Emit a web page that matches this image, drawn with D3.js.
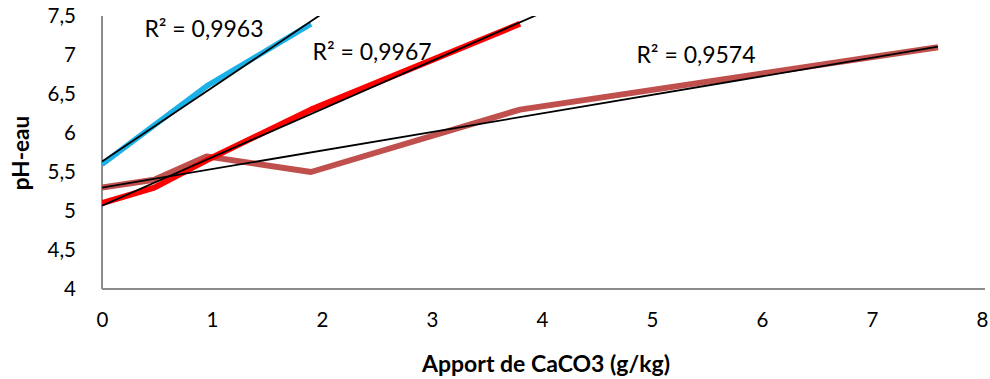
<!DOCTYPE html>
<html><head><meta charset="utf-8">
<script src="https://cdn.jsdelivr.net/npm/d3@7"></script>
<style>body{margin:0;background:#fff}svg{display:block}</style>
</head><body>
<svg id="c" width="990" height="379"></svg>
<script>
const xBlue = [0, 0.95, 1.9];
const yBlue = [5.6, 6.6, 7.4];
const xRed = [0, 0.475, 0.95, 1.9, 3.8];
const yRed = [5.1, 5.3, 5.65, 6.3, 7.4];
const xBrown = [0, 0.475, 0.95, 1.9, 3.8, 7.6];
const yBrown = [5.3, 5.4, 5.7, 5.5, 6.3, 7.1];
const r2Labels = ["R² = 0,9963", "R² = 0,9967", "R² = 0,9574"];
const trendEnds = [2.2, 4.2, 7.6];
const xTicks = [0,1,2,3,4,5,6,7,8];
const yTicks = [4,4.5,5,5.5,6,6.5,7,7.5];
const xTitle = "Apport de CaCO3 (g/kg)";
const yTitle = "pH-eau";

const font = "Lato, 'Open Sans', sans-serif";
const svg = d3.select("#c");
const L = 102, R = 982, T = 16, B = 289;
const x = d3.scaleLinear().domain([0,8]).range([L,R]);
const y = d3.scaleLinear().domain([4,7.5]).range([B,T]);

svg.append("defs").append("clipPath").attr("id","pc")
  .append("rect").attr("x",L).attr("y",T).attr("width",R-L).attr("height",B-T);

// axes
const gx = svg.append("g").attr("transform",`translate(0,${B})`)
  .call(d3.axisBottom(x).tickValues(xTicks).tickSize(0).tickPadding(23).tickFormat(d3.format("d")));
const gy = svg.append("g").attr("transform",`translate(${L},0)`)
  .call(d3.axisLeft(y).tickValues(yTicks).tickSize(0).tickPadding(26).tickFormat(d => String(d).replace(".", ",")));
[gx, gy].forEach(g => {
  g.select(".domain").attr("stroke","#8c8c8c").attr("stroke-width",2);
  g.selectAll("text").attr("font-family",font).attr("font-size",20.5).attr("fill","#000");
});
gy.select(".domain").attr("d",`M0,${T}V${B}`);
gx.select(".domain").attr("d",`M${L},0H${R+3}`);

const series = [
  {xs:xBlue, ys:yBlue, color:"#1ab0e8", w:5.5},
  {xs:xRed, ys:yRed, color:"#ff0000", w:6},
  {xs:xBrown, ys:yBrown, color:"#c0504d", w:6}
];
const line = d3.line().x(d=>x(d[0])).y(d=>y(d[1]));
const plot = svg.append("g").attr("clip-path","url(#pc)");

function fit(xs, ys){
  const mx = d3.mean(xs), my = d3.mean(ys);
  let sxy=0,sxx=0; xs.forEach((v,i)=>{sxy+=(v-mx)*(ys[i]-my); sxx+=(v-mx)*(v-mx);});
  const b = sxy/sxx; return {a: my-b*mx, b};
}
[2,1,0].forEach(i => {
  const s = series[i];
  plot.append("path").datum(s.xs.map((v,k)=>[v,s.ys[k]]))
    .attr("d",line).attr("fill","none").attr("stroke",s.color)
    .attr("stroke-width",s.w).attr("stroke-linejoin","round");
});
[2,1,0].forEach(i => {
  const s = series[i];
  const f = fit(s.xs, s.ys);
  const pts = [[0,f.a],[trendEnds[i], f.a + f.b*trendEnds[i]]];
  plot.append("path").datum(pts).attr("d",line).attr("fill","none")
    .attr("stroke","#000").attr("stroke-width",1.8);
});

// R² labels (centre x, baseline y in data units)
const labelPos = [[0.927, 7.23],[2.455, 6.935],[5.4, 6.9]];
r2Labels.forEach((t,i)=>{
  svg.append("text").attr("x",x(labelPos[i][0])).attr("y",y(labelPos[i][1]))
    .attr("text-anchor","middle").attr("font-family",font).attr("font-size",23).text(t);
});

svg.append("text").attr("x",546).attr("y",372).attr("text-anchor","middle")
  .attr("font-family",font).attr("font-size",23).attr("font-weight","bold").text(xTitle);
svg.append("text").attr("transform","translate(29,153) rotate(-90)").attr("text-anchor","middle")
  .attr("font-family",font).attr("font-size",22.5).attr("font-weight","bold").text(yTitle);
</script>
</body></html>
